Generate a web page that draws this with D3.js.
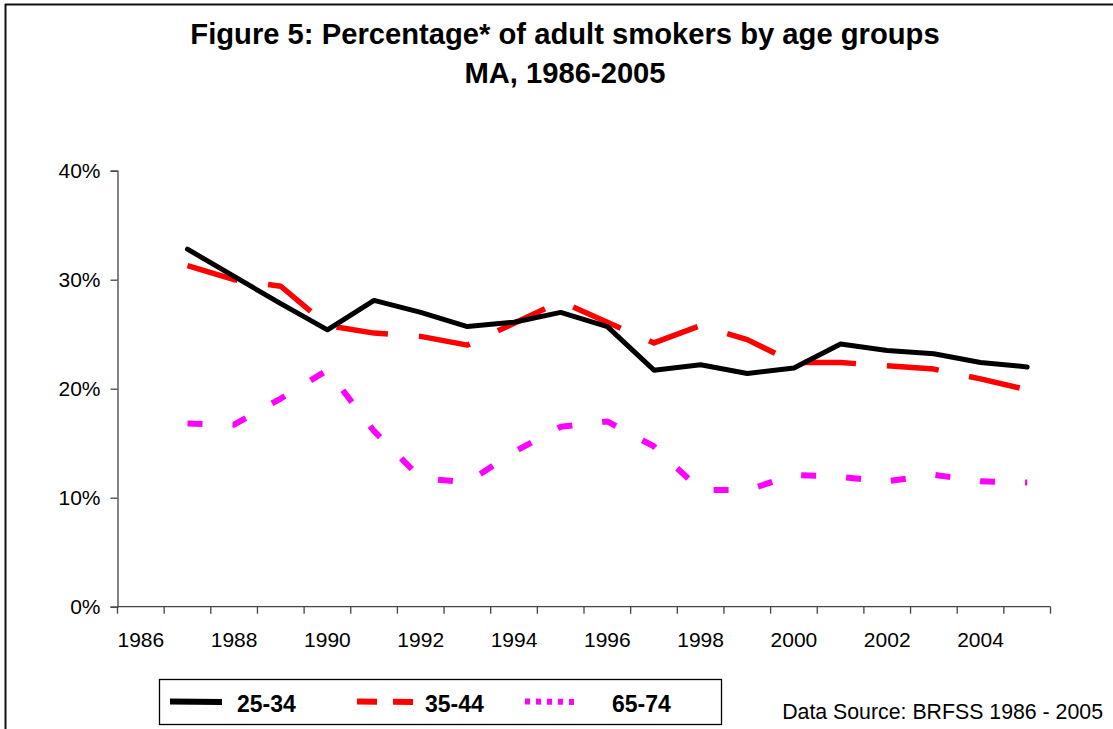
<!DOCTYPE html>
<html>
<head>
<meta charset="utf-8">
<script src="https://cdn.jsdelivr.net/npm/d3@7"></script>
<style>
  html, body { margin: 0; padding: 0; background: #fff; }
  svg { display: block; font-family: "Liberation Sans", Arial, sans-serif; }
</style>
</head>
<body>
<svg id="chart" width="1113" height="729"></svg>
<script>
// Years shown on the category axis (1986 has no survey value plotted)
const years = [1986, 1987, 1988, 1989, 1990, 1991, 1992, 1993, 1994, 1995,
               1996, 1997, 1998, 1999, 2000, 2001, 2002, 2003, 2004, 2005];
const yearLabels = [1986, 1988, 1990, 1992, 1994, 1996, 1998, 2000, 2002, 2004];

// Percentage of smokers per age group, per year
const age25to34 = [null, 32.8, 30.3, 27.8, 25.4, 28.1, 27.0, 25.7, 26.1, 27.0,
                   25.7, 21.7, 22.2, 21.4, 21.9, 24.1, 23.5, 23.2, 22.4, 22.0];
const age35to44 = [null, 31.3, 30.0, 29.4, 25.8, 25.1, 24.8, 24.0, 26.0, 28.0,
                   26.1, 24.2, 25.8, 24.5, 22.4, 22.4, 22.1, 21.8, 20.9, 19.9];
const age65to74 = [null, 16.8, 16.7, 19.1, 21.7, 16.1, 11.8, 11.4, 14.2, 16.5,
                   17.0, 14.7, 10.7, 10.7, 12.1, 11.9, 11.5, 12.1, 11.5, 11.4];

const yTicks = [0, 10, 20, 30, 40];

const seriesList = [
  { name: "25-34", values: age25to34, color: "#000000", dash: null,    width: 5, cap: "round" },
  { name: "35-44", values: age35to44, color: "#ff0000", dash: "52,31", width: 5.5, cap: "butt" },
  { name: "65-74", values: age65to74, color: "#ff00ff", dash: "15,30", width: 6, cap: "butt" }
];

const svg = d3.select("#chart");

// Frame lines along the top and left edges
svg.append("line").attr("x1", 5).attr("x2", 1113).attr("y1", 4.5).attr("y2", 4.5)
  .attr("stroke", "#111").attr("stroke-width", 2);
svg.append("line").attr("x1", 5.5).attr("x2", 5.5).attr("y1", 4).attr("y2", 729)
  .attr("stroke", "#111").attr("stroke-width", 2);

// Title
const title = svg.append("text").attr("text-anchor", "middle")
  .attr("font-weight", "bold").attr("font-size", 29.2).attr("fill", "#000");
title.append("tspan").attr("x", 565).attr("y", 44)
  .text("Figure 5: Percentage* of adult smokers by age groups");
title.append("tspan").attr("x", 565).attr("y", 83).text("MA, 1986-2005");

// Plot area
const plotLeft = 117.5, plotRight = 1050.5, plotTop = 170.7, plotBottom = 606.7;

const x = d3.scaleBand().domain(years).range([plotLeft, plotRight]).paddingInner(0).paddingOuter(0);
const y = d3.scaleLinear().domain([0, 40]).range([plotBottom, plotTop]);

// Y axis
const yAxis = d3.axisLeft(y).tickValues(yTicks).tickSize(7).tickPadding(10)
  .tickFormat(d => d + "%");
const gy = svg.append("g").attr("transform", `translate(${plotLeft},0)`).call(yAxis);
gy.select(".domain").attr("stroke", "#444").attr("stroke-width", 1.3);
gy.selectAll(".tick line").attr("stroke", "#444").attr("stroke-width", 1.3);
gy.selectAll(".tick text").attr("font-size", 21).attr("fill", "#000")
  .attr("font-family", "Liberation Sans, Arial, sans-serif");

// X axis: ticks sit on category boundaries, labels centred in categories
const boundaries = years.map(d => x(d)).concat([plotRight]);
const gx = svg.append("g");
gx.append("line").attr("x1", plotLeft).attr("x2", plotRight).attr("y1", plotBottom).attr("y2", plotBottom)
  .attr("stroke", "#444").attr("stroke-width", 1.3);
gx.selectAll("line.tk").data(boundaries).join("line").attr("class", "tk")
  .attr("x1", d => d).attr("x2", d => d).attr("y1", plotBottom).attr("y2", plotBottom + 7)
  .attr("stroke", "#444").attr("stroke-width", 1.3);
gx.selectAll("text").data(yearLabels).join("text")
  .attr("x", d => x(d) + x.bandwidth() / 2).attr("y", 647)
  .attr("text-anchor", "middle").attr("font-size", 21).attr("fill", "#000")
  .text(d => d);

// Series lines
const line = d3.line()
  .defined(d => d.v != null)
  .x(d => x(d.year) + x.bandwidth() / 2)
  .y(d => y(d.v));

// draw magenta first, then red, then black on top
[2, 1, 0].forEach(i => {
  const s = seriesList[i];
  const pts = years.map((yr, j) => ({ year: yr, v: s.values[j] }));
  svg.append("path").datum(pts).attr("d", line)
    .attr("fill", "none").attr("stroke", s.color).attr("stroke-width", s.width)
    .attr("stroke-dasharray", s.dash).attr("stroke-linecap", s.cap)
    .attr("stroke-linejoin", "round");
});

// Legend
const lg = svg.append("g");
lg.append("rect").attr("x", 159.5).attr("y", 679.5).attr("width", 562).attr("height", 45)
  .attr("fill", "#fff").attr("stroke", "#000").attr("stroke-width", 1.3);
const legendItems = [
  { s: seriesList[0], x1: 170, x2: 222, tx: 237, dash: null, w: 6 },
  { s: seriesList[1], x1: 357, x2: 420, tx: 425, dash: "20,16", w: 6 },
  { s: seriesList[2], x1: 525, x2: 578, tx: 612, dash: "5,6", w: 6 }
];
legendItems.forEach(it => {
  lg.append("line").attr("x1", it.x1).attr("x2", it.x2).attr("y1", 701.5).attr("y2", 702)
    .attr("stroke", it.s.color).attr("stroke-width", it.w).attr("stroke-dasharray", it.dash);
  lg.append("text").attr("x", it.tx).attr("y", 712).attr("font-size", 23)
    .attr("font-weight", "bold").attr("fill", "#000").text(it.s.name);
});

// Data source note
svg.append("text").attr("x", 1103).attr("y", 719).attr("text-anchor", "end")
  .attr("font-size", 21.3).attr("fill", "#000").text("Data Source: BRFSS 1986 - 2005");
</script>
</body>
</html>
